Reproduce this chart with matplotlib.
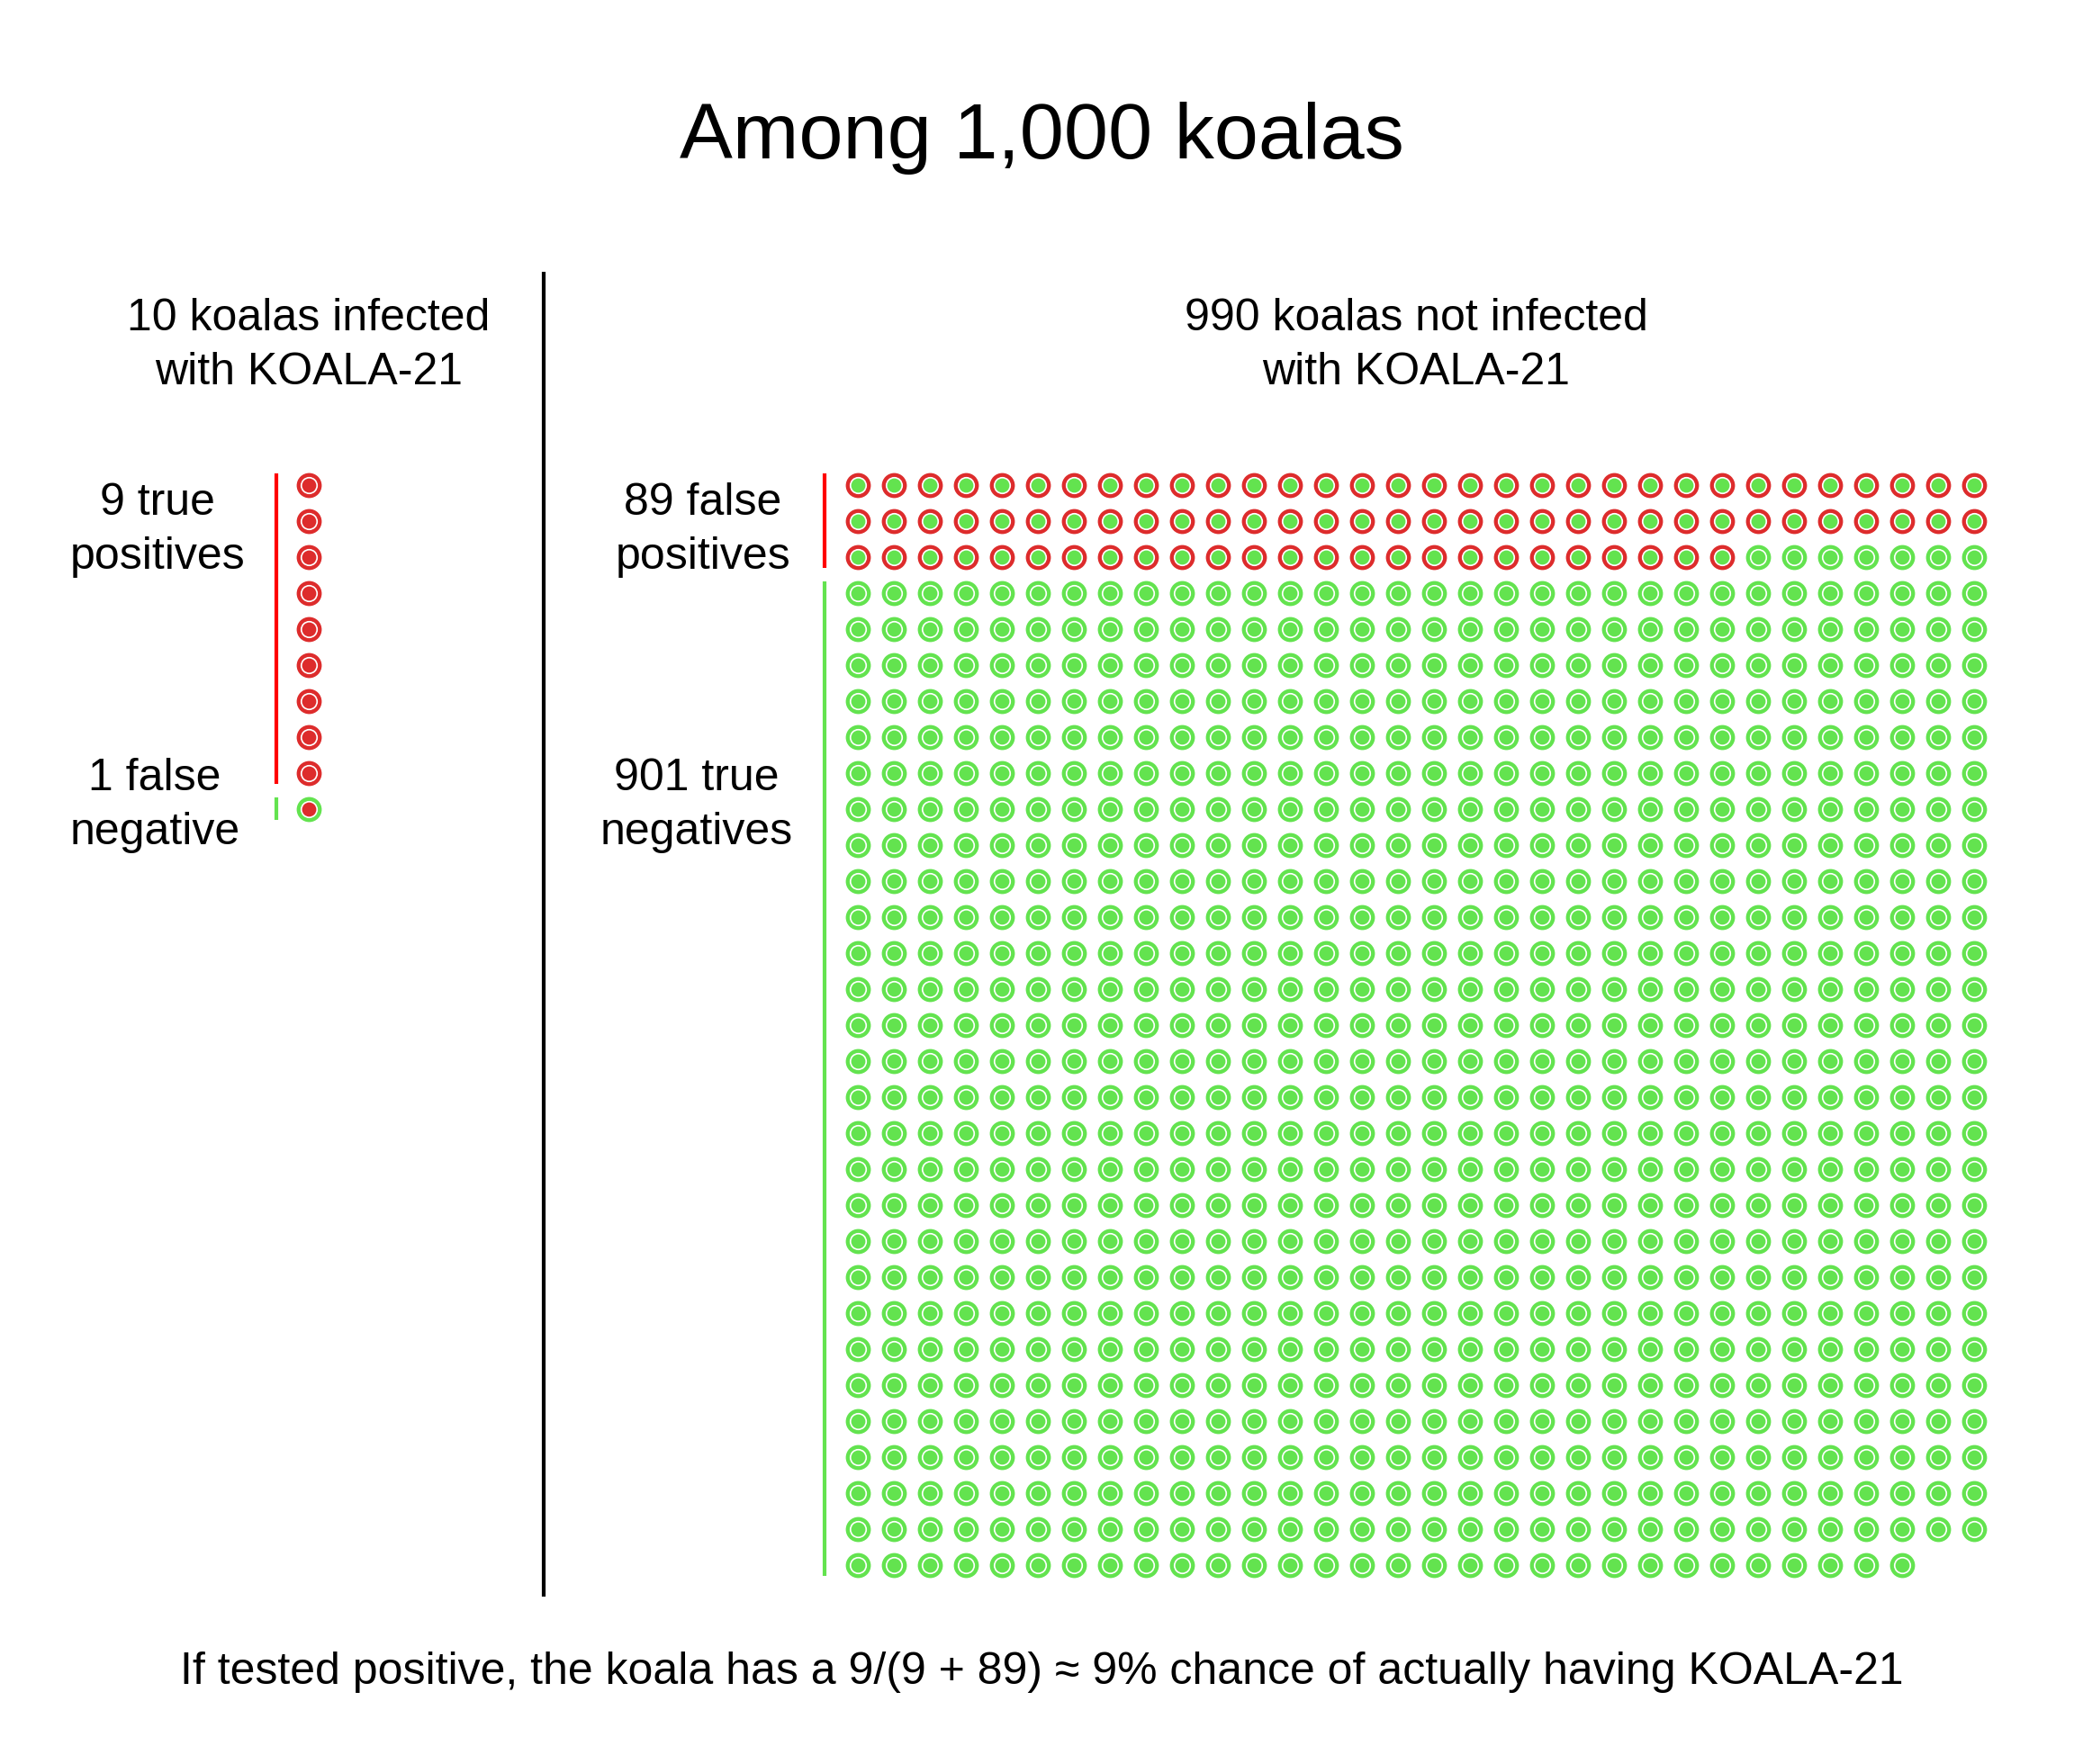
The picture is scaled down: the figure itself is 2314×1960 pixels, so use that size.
import matplotlib.pyplot as plt
import numpy as np

# counts
true_pos = 9
false_neg = 1
false_pos = 89
true_neg = 901
n_cols = 32  # dots per row for the not-infected group

title = "Among 1,000 koalas"
header_left = ["10 koalas infected", "with KOALA-21"]
header_right = ["990 koalas not infected", "with KOALA-21"]
lab_tp = ["9 true", "positives"]
lab_fn = ["1 false", "negative"]
lab_fp = ["89 false", "positives"]
lab_tn = ["901 true", "negatives"]
footer = "If tested positive, the koala has a 9/(9 + 89) \u2248 9% chance of actually having KOALA-21"

RED = '#DD2C2C'
GREEN = '#63E34F'
LINE_RED = '#FF0000'

W, H = 2314, 1960
plt.rcParams['font.family'] = ['Liberation Sans', 'DejaVu Sans']

fig = plt.figure(figsize=(W / 100, H / 100), dpi=100)
ax = fig.add_axes([0, 0, 1, 1])
ax.set_xlim(0, W)
ax.set_ylim(H, 0)
ax.axis('off')

# layout (pixels)
step = 40
y0 = 539
x_left = 343
x0 = 953
px = 0.72  # points per pixel at dpi 100


def size(r):
    return (2 * r * px) ** 2


def dots(x, y, ring, inner):
    ax.scatter(x, y, s=size(13.9), c=ring, linewidths=0, zorder=2)
    ax.scatter(x, y, s=size(9.6), c='white', linewidths=0, zorder=3)
    ax.scatter(x, y, s=size(7.9), c=inner, linewidths=0, zorder=4)


def bracket(x, r_first, r_last, color):
    ax.plot([x, x], [y0 + r_first * step - 13, y0 + r_last * step + 12],
            color=color, lw=3.0, solid_capstyle='butt')


def lines(x, y, rows, fs=36):
    for i, t in enumerate(rows):
        ax.text(x, y + i * 59.5, t, ha='center', va='baseline', fontsize=fs)


# infected column
rows_inf = np.arange(true_pos + false_neg)
dots(np.full(true_pos, x_left), y0 + rows_inf[:true_pos] * step, RED, RED)
dots(np.full(false_neg, x_left), y0 + rows_inf[true_pos:] * step, GREEN, RED)
bracket(307, 0, true_pos - 1, LINE_RED)
bracket(307, true_pos, true_pos + false_neg - 1, GREEN)

# not infected grid
idx = np.arange(false_pos + true_neg)
gx = x0 + (idx % n_cols) * step
gy = y0 + (idx // n_cols) * step
dots(gx[:false_pos], gy[:false_pos], RED, GREEN)
dots(gx[false_pos:], gy[false_pos:], GREEN, GREEN)
last_fp_row = (false_pos - 1) // n_cols
last_row = (false_pos + true_neg - 1) // n_cols
bracket(916, 0, last_fp_row, LINE_RED)
bracket(916, last_fp_row + 1, last_row, GREEN)

# divider
ax.plot([604, 604], [302, 1774], color='black', lw=3.0, solid_capstyle='butt')

# texts
ax.text(W / 2, 176, title, ha='center', va='baseline', fontsize=63.5)
lines(x_left, 367, header_left)
lines(x0 + (n_cols - 1) * step / 2, 367, header_right)
lines(175, 572, lab_tp)
lines(172, 878, lab_fn)
lines(781, 572, lab_fp)
lines(774, 878, lab_tn)
ax.text(W / 2, 1871, footer, ha='center', va='baseline', fontsize=36)

fig.savefig('out.png', dpi=100, facecolor='white')
